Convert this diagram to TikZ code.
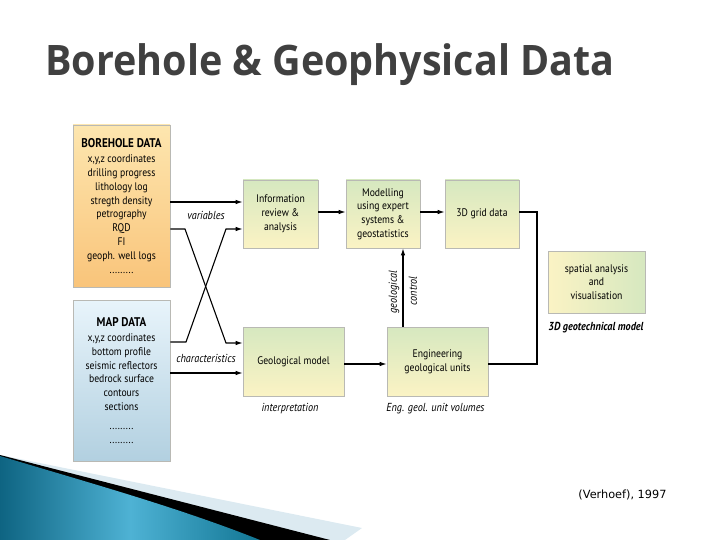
\documentclass[tikz,border=0pt]{standalone}
\usepackage{fontspec}
\usetikzlibrary{arrows.meta}
\newfontfamily\boxfont{PT Sans}[FakeStretch=0.88]
\newfontfamily\titlefont{Open Sans}[FakeStretch=0.94]
\newfontfamily\citefont{DejaVu Sans}
\definecolor{boxline}{RGB}{185,185,180}
\definecolor{gtop}{RGB}{214,232,192}
\definecolor{gbot}{RGB}{251,243,196}
\definecolor{otop}{RGB}{253,230,175}
\definecolor{obot}{RGB}{249,196,122}
\definecolor{btop}{RGB}{232,244,251}
\definecolor{bbot}{RGB}{178,208,224}
\definecolor{titlegray}{RGB}{64,64,64}
\definecolor{tealdark}{RGB}{14,100,130}
\definecolor{teallight}{RGB}{78,178,212}
\definecolor{tealright}{RGB}{18,118,148}
\definecolor{paleband}{RGB}{220,234,241}
\tikzset{
  box/.style={draw=boxline, line width=0.6pt, align=center, inner sep=2pt,
    font=\boxfont\fontsize{11}{13.8}\selectfont},
  gbox/.style={box, top color=gtop, bottom color=gbot},
  hbox/.style={box, left color=gbot, right color=gtop},
  obox/.style={box, top color=otop, bottom color=obot},
  bbox/.style={box, top color=btop, bottom color=bbot},
  arr/.style={line width=1.1pt, -{Latex[length=7pt,width=4.5pt]}},
  conn/.style={line width=1.1pt},
  lbl/.style={font=\boxfont\itshape\fontsize{11.6}{13}\selectfont, inner sep=0pt},
}
\begin{document}
\begin{tikzpicture}[x=1pt,y=-1pt]
\useasboundingbox (0,0) rectangle (720,540);
% title
\node[anchor=base west, inner sep=0pt, text=titlegray, font=\titlefont\bfseries\fontsize{42}{42}\selectfont] (title) at (45,76)
 {Borehole \& Geophysical Data};

% source boxes
\node[obox, minimum width=97pt, minimum height=162pt] (bore) at (121.5,206)
 {{\bfseries\fontsize{12.6}{14}\selectfont BOREHOLE DATA}\\[1pt]
  x,y,z coordinates\\drilling progress\\lithology log\\stregth density\\petrography\\RQD\\FI\\geoph. well logs\\.........};
\node[bbox, minimum width=97pt, minimum height=161pt] (map) at (121.5,380.5)
 {{\bfseries\fontsize{12.6}{14}\selectfont MAP DATA}\\[1pt]
  x,y,z coordinates\\bottom profile\\seismic reflectors\\bedrock surface\\contours\\sections\\[5pt]
  .........\\.........};

% process boxes
\node[gbox, minimum width=75pt, minimum height=68pt] (info) at (280.5,214) {Information\\review \&\\analysis};
\node[gbox, minimum width=74pt, minimum height=68pt] (model) at (383,214) {Modelling\\using expert\\systems \&\\geostatistics};
\node[gbox, minimum width=74pt, minimum height=68pt] (grid) at (482,214) {3D grid data};
\node[gbox, minimum width=101pt, minimum height=69pt] (geo) at (293.5,361.5) {Geological model};
\node[gbox, minimum width=101pt, minimum height=69pt] (eng) at (437.5,361.5) {Engineering\\geological units};
\node[hbox, minimum width=97pt, minimum height=62pt] (spatial) at (596.5,282) {spatial analysis\\and\\visualisation};

% connectors
\draw[arr] (bore.east |- 0,202) -- (info.west |- 0,202);
\draw[arr] (bore.east |- 0,229) -- (185,229) -- (226,343) -- (geo.west |- 0,343);
\draw[arr] (map.east |- 0,342) -- (186,342) -- (226,229) -- (info.west |- 0,229);
\draw[arr] (map.east |- 0,373) -- (geo.west |- 0,373);
\draw[arr] (info.east |- 0,212) -- (model.west |- 0,212);
\draw[arr] (model.east |- 0,212) -- (grid.west |- 0,212);
\draw[arr] (geo.east |- 0,364) -- (eng.west |- 0,364);
\draw[arr] (eng.north -| 403,0) -- (model.south -| 403,0);
\draw[conn] (grid.east |- 0,212) -- (537,212) -- (537,364) -- (eng.east |- 0,364);

% labels
\node[lbl] (lvar) at (206,215) {variables};
\node[lbl] (lchar) at (206,358) {characteristics};
\node[lbl] (linterp) at (290,409) {interpretation};
\node[lbl] (lvol) at (435.5,409) {Eng. geol. unit volumes};
\node[lbl, font=\boxfont\bfseries\itshape\fontsize{11.6}{13}\selectfont] (lmodel) at (596,328) {3D geotechnical model};
\node[lbl, rotate=90] (lgeo) at (394,292) {geological};
\node[lbl, rotate=90] (lctl) at (413,291) {control};

% citation
\node[font=\citefont\fontsize{11.3}{13}\selectfont, inner sep=0pt] (cite) at (622.5,495) {(Verhoef), 1997};

% decorative swoosh
\fill[paleband] (0,455) -- (362,528) -- (345,540) -- (0,540) -- cycle;
\fill[black] (0,455) -- (330,540) -- (0,540) -- cycle;
\shade[left color=tealdark, right color=tealright, middle color=teallight]
  (0,456) .. controls (90,483) and (180,508) .. (260,540) -- (0,540) -- cycle;
\end{tikzpicture}
\end{document}
